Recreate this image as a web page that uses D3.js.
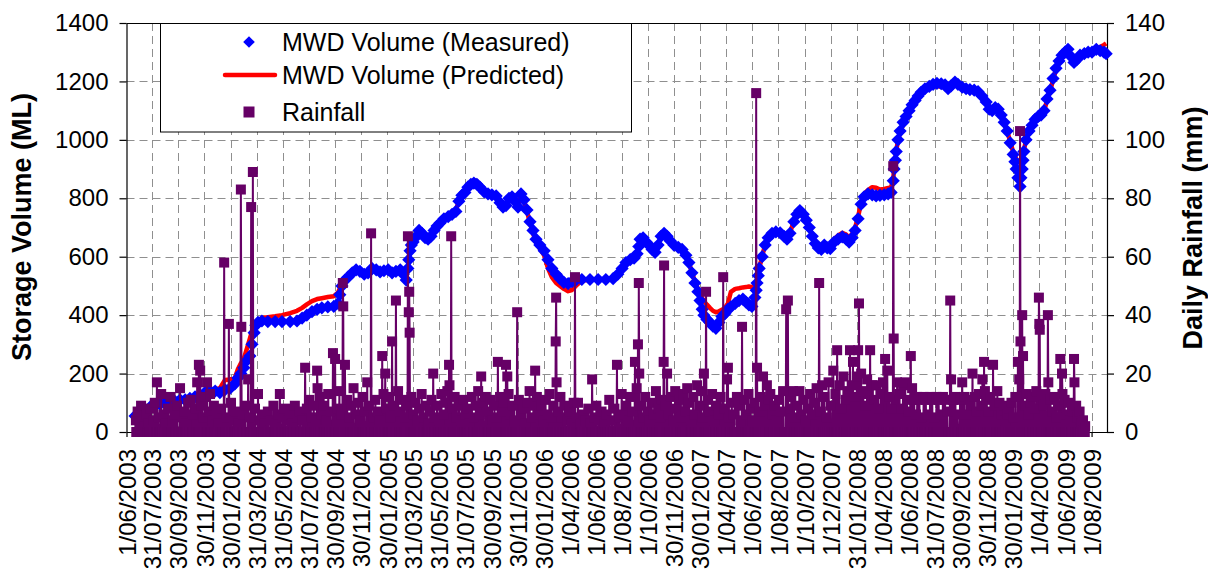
<!DOCTYPE html>
<html>
<head>
<meta charset="utf-8">
<script src="https://cdn.jsdelivr.net/npm/d3@7"></script>
<style>
  body { margin: 0; background: #fff; }
  svg { display: block; }
  text { font-family: "Liberation Sans", Arial, sans-serif; fill: #000; }
</style>
</head>
<body>
<svg id="chart" width="1208" height="576"></svg>
<script>
// ---- data -------------------------------------------------------------
// All days are counted from 1 June 2003.
const startDate = "1/06/2003";
const endDay = 2289;

const tickLabels = [
  "1/06/2003", "31/07/2003", "30/09/2003", "30/11/2003", "30/01/2004", "31/03/2004",
  "31/05/2004", "31/07/2004", "30/09/2004", "30/11/2004", "30/01/2005", "31/03/2005",
  "31/05/2005", "31/07/2005", "30/09/2005", "30/11/2005", "30/01/2006", "1/04/2006",
  "1/06/2006", "1/08/2006", "1/10/2006", "30/11/2006", "30/01/2007", "1/04/2007",
  "1/06/2007", "1/08/2007", "1/10/2007", "1/12/2007", "31/01/2008", "1/04/2008",
  "1/06/2008", "31/07/2008", "30/09/2008", "30/11/2008", "30/01/2009", "1/04/2009",
  "1/06/2009", "1/08/2009"
];
const volumeTicks = [0, 200, 400, 600, 800, 1000, 1200, 1400];
const rainTicks = [0, 20, 40, 60, 80, 100, 120, 140];

// MWD storage volume, measured [day, ML]
const measuredVolume = [
  [20,55],[32,65],[43,75],[55,85],[67,90],[78,95],[90,100],[102,100],[113,105],[125,110],
  [137,110],[148,115],[160,120],[172,125],[183,135],[195,140],[207,140],[218,135],[230,145],
  [242,150],[253,165],[260,185],[267,200],[274,220],[281,245],[288,260],[293,300],[298,340],
  [302,365],[307,375],[316,380],[330,378],[347,378],[363,378],[382,378],[398,380],[410,390],
  [421,400],[433,412],[445,420],[456,425],[470,428],[484,430],[494,440],[498,470],[503,500],
  [510,520],[517,530],[527,545],[536,555],[545,550],[555,540],[564,545],[573,560],[583,555],
  [592,548],[601,552],[611,555],[620,545],[629,550],[639,555],[646,540],[653,520],[657,560],
  [659,590],[662,620],[665,640],[669,650],[676,668],[683,690],[690,680],[697,665],[704,660],
  [711,670],[718,690],[725,705],[732,715],[741,730],[751,737],[760,745],[769,755],[776,790],
  [783,810],[790,820],[797,838],[804,848],[811,852],[818,848],[825,838],[835,822],[844,815],
  [853,812],[863,808],[872,785],[879,770],[886,775],[893,800],[900,805],[907,790],[914,770],
  [921,815],[928,795],[935,760],[942,720],[949,690],[956,660],[965,640],[975,620],[984,590],
  [993,560],[1003,540],[1012,525],[1021,512],[1031,508],[1040,515],[1049,520],[1063,522],
  [1082,522],[1101,522],[1119,522],[1136,525],[1147,540],[1157,560],[1166,580],[1176,590],
  [1185,595],[1192,610],[1196,635],[1199,660],[1206,665],[1213,650],[1220,640],[1227,625],
  [1234,615],[1241,640],[1248,670],[1255,680],[1262,670],[1269,655],[1278,640],[1288,632],
  [1297,625],[1306,605],[1313,580],[1320,545],[1327,510],[1334,480],[1339,450],[1344,420],
  [1348,400],[1355,385],[1362,375],[1369,362],[1376,355],[1383,375],[1390,395],[1397,405],
  [1404,420],[1411,428],[1421,440],[1430,450],[1439,455],[1446,445],[1453,435],[1460,430],
  [1467,460],[1470,485],[1472,510],[1475,535],[1477,560],[1484,600],[1491,640],[1498,665],
  [1507,680],[1516,685],[1526,682],[1535,670],[1542,660],[1549,680],[1558,720],[1565,745],
  [1572,758],[1580,745],[1587,725],[1594,700],[1601,670],[1608,645],[1615,630],[1622,625],
  [1629,640],[1636,630],[1643,628],[1652,650],[1661,660],[1671,668],[1680,660],[1687,650],
  [1694,665],[1701,690],[1708,730],[1715,780],[1722,805],[1731,815],[1741,812],[1750,808],
  [1759,810],[1769,812],[1778,815],[1785,820],[1790,860],[1792,900],[1795,930],[1797,960],
  [1801,1000],[1806,1030],[1813,1060],[1820,1080],[1827,1100],[1834,1120],[1841,1135],
  [1848,1150],[1855,1163],[1864,1175],[1874,1183],[1883,1190],[1892,1193],[1902,1192],
  [1911,1188],[1918,1175],[1925,1185],[1934,1198],[1941,1190],[1951,1180],[1960,1175],
  [1969,1172],[1979,1170],[1988,1165],[1997,1150],[2007,1130],[2014,1105],[2021,1100],
  [2028,1110],[2035,1105],[2042,1085],[2049,1060],[2056,1030],[2063,990],[2070,950],
  [2074,925],[2077,900],[2081,870],[2086,840],[2088,870],[2091,900],[2093,930],[2095,960],
  [2100,1000],[2107,1030],[2114,1050],[2121,1070],[2128,1080],[2135,1085],[2142,1100],
  [2149,1140],[2156,1170],[2163,1210],[2170,1245],[2177,1270],[2184,1290],[2191,1300],
  [2198,1310],[2205,1285],[2212,1265],[2219,1275],[2226,1290],[2236,1295],[2245,1300],
  [2254,1300],[2264,1310],[2273,1305],[2282,1300],[2287,1295]
];

// MWD storage volume, model prediction [day, ML]
const predictedVolume = [
  [20,55],[43,72],[67,85],[90,95],[113,102],[137,108],[160,118],[183,130],[195,138],[207,145],
  [218,150],[230,178],[242,180],[253,185],[260,215],[267,235],[274,252],[281,285],[288,320],
  [293,345],[298,365],[302,378],[307,382],[316,390],[330,393],[347,396],[363,400],[382,407],
  [398,415],[410,425],[421,437],[433,448],[445,455],[456,458],[470,462],[484,465],[494,478],
  [498,492],[503,510],[510,525],[517,535],[527,548],[536,556],[545,552],[555,545],[564,548],
  [573,560],[583,556],[592,550],[601,553],[611,556],[620,548],[629,552],[639,556],[646,545],
  [653,528],[657,560],[662,618],[669,648],[676,665],[683,688],[690,680],[697,668],[704,662],
  [711,672],[718,692],[725,707],[732,717],[741,732],[751,740],[760,748],[769,760],[776,792],
  [783,812],[790,825],[797,842],[804,855],[811,862],[818,858],[825,842],[835,825],[844,815],
  [853,812],[863,805],[872,782],[879,770],[886,778],[893,800],[900,806],[907,790],[914,772],
  [921,808],[928,790],[935,755],[942,715],[949,680],[956,650],[965,628],[975,605],[984,560],
  [993,530],[1003,510],[1012,500],[1021,490],[1031,482],[1040,486],[1049,500],[1063,518],
  [1082,522],[1101,522],[1119,522],[1136,526],[1147,542],[1157,562],[1166,580],[1176,590],
  [1185,597],[1192,612],[1199,655],[1206,662],[1213,650],[1220,638],[1227,626],[1234,618],
  [1241,640],[1248,668],[1255,678],[1262,668],[1269,655],[1278,640],[1288,630],[1297,620],
  [1306,600],[1313,578],[1320,548],[1327,515],[1334,490],[1339,470],[1344,458],[1348,448],
  [1355,436],[1362,425],[1369,415],[1376,410],[1383,413],[1390,418],[1397,425],[1404,440],
  [1411,480],[1421,490],[1430,492],[1439,495],[1446,496],[1453,498],[1460,496],[1467,502],
  [1472,520],[1477,560],[1484,602],[1491,642],[1498,668],[1507,685],[1516,690],[1526,686],
  [1535,672],[1542,662],[1549,682],[1558,722],[1565,748],[1572,760],[1580,748],[1587,728],
  [1594,703],[1601,672],[1608,648],[1615,635],[1622,632],[1629,645],[1636,640],[1643,640],
  [1652,660],[1661,672],[1671,682],[1680,676],[1687,665],[1694,678],[1701,700],[1708,738],
  [1715,785],[1722,815],[1731,828],[1741,838],[1750,836],[1759,830],[1769,832],[1778,835],
  [1785,838],[1790,865],[1792,905],[1797,962],[1801,998],[1806,1025],[1813,1052],[1820,1072],
  [1827,1092],[1834,1112],[1841,1128],[1848,1143],[1855,1157],[1864,1170],[1874,1178],
  [1883,1183],[1892,1184],[1902,1182],[1911,1180],[1918,1172],[1925,1180],[1934,1192],
  [1941,1188],[1951,1178],[1960,1172],[1969,1168],[1979,1166],[1988,1160],[1997,1145],
  [2007,1125],[2014,1105],[2021,1100],[2028,1108],[2035,1102],[2042,1082],[2049,1058],
  [2056,1030],[2063,995],[2070,958],[2077,935],[2081,925],[2086,922],[2091,935],[2095,965],
  [2100,1000],[2107,1028],[2114,1048],[2121,1066],[2128,1078],[2135,1085],[2142,1098],
  [2149,1135],[2156,1165],[2163,1205],[2170,1240],[2177,1266],[2184,1288],[2191,1300],
  [2198,1308],[2205,1288],[2212,1268],[2219,1275],[2226,1290],[2236,1295],[2245,1300],
  [2254,1302],[2264,1312],[2273,1318],[2282,1325],[2287,1330]
];

// Daily rainfall record: first and last day of record; days not listed had no rain.
const rainPeriod = [22, 2238];

// Storm days [day, mm]
const rainStorms = [
  [34,9],[71,17],[81,13],[125,15],[144,10],[165,17],[169,23],[172,21],[188,17],[195,13],
  [228,58],[239,37],[267,83],[268,36],[284,18],[291,77],[295,89],[307,13],[358,13],[417,22],
  [445,21],[446,15],[482,27],[487,25],[505,51],[506,43],[510,23],[562,17],[571,68],[597,26],
  [604,20],[620,31],[629,45],[657,67],[659,41],[660,48],[661,34],[716,20],[753,23],[754,16],
  [758,67],[828,19],[839,12],[867,24],[886,23],[889,19],[912,41],[954,21],[1002,31],[1003,46],
  [1004,17],[1047,53],[1054,10],[1087,18],[1145,23],[1187,24],[1194,30],[1196,51],[1197,20],
  [1254,24],[1255,57],[1262,20],[1281,14],[1309,15],[1332,16],[1348,20],[1353,48],[1393,53],
  [1402,18],[1404,22],[1425,12],[1437,36],[1470,116],[1472,22],[1486,19],[1495,16],[1498,11],
  [1540,42],[1544,45],[1556,14],[1617,51],[1624,16],[1650,21],[1659,28],[1689,28],[1696,24],
  [1708,28],[1710,44],[1715,20],[1729,18],[1736,28],[1741,16],[1771,25],[1776,21],[1790,91],
  [1791,32],[1799,17],[1813,16],[1818,17],[1831,26],[1834,15],[1846,12],[1923,45],[1925,18],
  [1951,17],[1975,20],[2002,24],[2004,14],[2023,23],[2033,14],[2056,6],[2081,24],[2084,18],
  [2086,103],[2087,31],[2091,40],[2093,26],[2116,12],[2130,46],[2131,37],[2132,35],[2151,40],
  [2152,17],[2180,25],[2184,20],[2185,13],[2210,7],[2212,25],[2213,17]
];

// Shower days [day, mm]
const rainShowers = [
  [22,4],[26,7],[30,3],[38,5],[42,2],[47,6],[52,3],[57,8],[62,4],[66,10],[75,5],[86,6],[92,3],
  [97,8],[103,12],[108,4],[113,6],[118,9],[130,5],[135,7],[139,3],[150,11],[155,6],[160,8],
  [176,9],[180,5],[184,12],[191,7],[200,4],[204,9],[210,6],[215,3],[221,8],[233,5],[244,10],
  [250,4],[256,7],[261,3],[272,6],[277,9],[288,5],[300,8],[312,4],[317,6],[323,3],[330,7],
  [337,4],[343,9],[350,3],[354,6],[364,5],[370,8],[376,4],[382,6],[388,3],[393,9],[399,5],
  [405,7],[411,4],[421,8],[427,11],[432,5],[437,9],[441,4],[451,12],[456,6],[461,9],[466,4],
  [471,13],[476,7],[492,8],[497,14],[501,6],[515,11],[520,5],[525,9],[530,15],[536,6],[541,10],
  [546,4],[551,12],[556,7],[566,9],[576,5],[581,11],[586,7],[591,4],[600,13],[608,8],[613,12],
  [616,5],[624,9],[634,14],[639,7],[644,11],[649,5],[653,9],[665,12],[669,6],[674,10],[679,4],
  [684,8],[689,13],[694,5],[699,9],[704,3],[709,7],[712,11],[720,5],[725,9],[730,4],[735,13],
  [740,6],[745,10],[749,14],[762,8],[766,12],[771,5],[776,9],[781,4],[786,11],[791,6],[796,8],
  [801,3],[806,12],[811,5],[816,9],[821,14],[825,6],[833,10],[844,7],[849,11],[854,4],[859,9],
  [863,5],[872,12],[877,7],[881,10],[892,13],[896,6],[901,9],[906,4],[916,11],[921,6],[926,8],
  [931,3],[936,10],[941,14],[946,5],[950,9],[958,12],[963,6],[968,9],[973,4],[978,11],[983,6],
  [988,13],[993,5],[997,9],[1008,7],[1013,12],[1018,5],[1023,9],[1029,4],[1034,7],[1040,3],
  [1044,10],[1051,5],[1060,3],[1066,6],[1072,4],[1078,8],[1083,3],[1092,5],[1097,9],[1103,4],
  [1109,7],[1115,3],[1121,6],[1127,11],[1133,4],[1139,8],[1150,5],[1156,13],[1161,6],[1166,9],
  [1171,4],[1176,12],[1181,7],[1191,15],[1201,9],[1206,5],[1211,12],[1216,7],[1221,4],[1226,10],
  [1231,6],[1236,14],[1241,8],[1246,5],[1250,11],[1258,9],[1266,6],[1271,12],[1276,4],[1285,8],
  [1290,11],[1295,5],[1300,13],[1304,7],[1313,10],[1318,4],[1323,12],[1327,6],[1337,9],[1341,14],
  [1345,5],[1357,11],[1362,7],[1367,13],[1372,4],[1377,9],[1382,6],[1387,12],[1397,8],[1408,5],
  [1413,10],[1418,6],[1429,9],[1433,4],[1442,11],[1447,6],[1452,13],[1457,8],[1462,4],[1466,10],
  [1477,7],[1481,12],[1490,9],[1503,13],[1508,6],[1513,9],[1518,4],[1523,11],[1528,7],[1533,14],
  [1549,8],[1552,12],[1561,5],[1566,9],[1571,14],[1576,6],[1581,11],[1586,4],[1591,8],[1596,13],
  [1601,6],[1606,10],[1611,15],[1621,7],[1629,12],[1634,5],[1639,17],[1644,9],[1655,13],[1664,16],
  [1669,8],[1674,19],[1679,11],[1684,14],[1693,16],[1701,12],[1705,19],[1720,14],[1725,9],
  [1733,13],[1746,11],[1751,16],[1756,8],[1761,13],[1766,17],[1781,12],[1786,8],[1795,11],
  [1804,13],[1809,8],[1822,11],[1826,7],[1839,11],[1843,6],[1851,11],[1856,5],[1861,12],[1866,11],
  [1871,6],[1876,12],[1881,11],[1886,5],[1891,12],[1896,11],[1901,6],[1906,12],[1911,11],[1916,7],
  [1930,11],[1935,12],[1940,6],[1946,11],[1956,12],[1961,6],[1966,11],[1970,9],[1980,12],[1985,7],
  [1990,13],[1995,9],[1998,18],[2008,11],[2012,7],[2017,12],[2028,9],[2038,10],[2043,6],[2048,9],
  [2052,4],[2061,8],[2066,10],[2071,5],[2075,12],[2098,9],[2102,13],[2106,6],[2111,10],[2120,8],
  [2124,14],[2136,11],[2140,9],[2145,13],[2157,11],[2162,7],[2166,12],[2170,5],[2175,9],[2190,11],
  [2194,6],[2198,10],[2203,4],[2207,8],[2217,9],[2221,5],[2225,7],[2229,3],[2233,4],[2238,2]
];

// ---- layout ------------------------------------------------------------
const plot = { left: 126.5, right: 1107, top: 23, bottom: 432 };
const colors = { measured: "#0000ff", predicted: "#ff0000", rain: "#660066", grid: "#8f8f8f" };

const svg = d3.select("#chart");
const parseDate = d3.timeParse("%d/%m/%Y");
const start = parseDate(startDate);
const dayToDate = d => d3.timeDay.offset(start, d);

const x = d3.scaleTime()
  .domain([start, dayToDate(endDay)])
  .range([plot.left, plot.right]);
const yVol = d3.scaleLinear().domain([0, 1400]).range([plot.bottom, plot.top]);
const yRain = d3.scaleLinear().domain([0, 140]).range([plot.bottom, plot.top]);
const tickDates = tickLabels.map(parseDate);

// ---- gridlines ---------------------------------------------------------
const grid = svg.append("g").attr("class", "grid")
  .attr("stroke", colors.grid).attr("stroke-width", 1).attr("stroke-dasharray", "8,5");
grid.selectAll("line.h")
  .data(volumeTicks.filter(v => v > 0 && v < 1400))
  .join("line")
  .attr("x1", plot.left).attr("x2", plot.right)
  .attr("y1", d => Math.round(yVol(d)) + 0.5).attr("y2", d => Math.round(yVol(d)) + 0.5);
grid.selectAll("line.v")
  .data(tickDates.slice(1))
  .join("line")
  .attr("x1", d => Math.round(x(d)) + 0.5).attr("x2", d => Math.round(x(d)) + 0.5)
  .attr("y1", plot.top).attr("y2", plot.bottom);

// top border of the plot area
svg.append("line")
  .attr("x1", plot.left).attr("x2", plot.right)
  .attr("y1", plot.top + 0.5).attr("y2", plot.top + 0.5)
  .attr("stroke", "#000").attr("stroke-width", 1);

// ---- axes --------------------------------------------------------------
function styleAxis(g) {
  g.selectAll("path.domain").attr("stroke", "#000").attr("stroke-width", 1.2);
  g.selectAll(".tick line").attr("stroke", "#000").attr("stroke-width", 1.2);
  g.selectAll(".tick text").attr("font-size", 24).attr("fill", "#000")
    .attr("font-family", "'Liberation Sans', Arial, sans-serif");
}
const plainNumber = d3.format("d");

svg.append("g")
  .attr("transform", `translate(${plot.left},0)`)
  .call(d3.axisLeft(yVol).tickValues(volumeTicks).tickFormat(plainNumber)
    .tickSize(7).tickSizeOuter(0).tickPadding(11))
  .call(styleAxis);

svg.append("g")
  .attr("transform", `translate(${plot.right},0)`)
  .call(d3.axisRight(yRain).tickValues(rainTicks).tickFormat(plainNumber)
    .tickSize(7).tickSizeOuter(0).tickPadding(11))
  .call(styleAxis);

const xAxis = svg.append("g")
  .attr("transform", `translate(0,${plot.bottom})`)
  .call(d3.axisBottom(x).tickValues(tickDates).tickFormat((d, i) => tickLabels[i])
    .tickSize(5).tickSizeOuter(0))
  .call(styleAxis);
xAxis.selectAll(".tick text")
  .attr("transform", "rotate(-90)")
  .attr("x", -17).attr("y", 0).attr("dy", "0.36em")
  .style("text-anchor", "end");

// axis titles
svg.append("text")
  .attr("transform", "translate(31,227) rotate(-90)")
  .attr("text-anchor", "middle").attr("font-size", 27).attr("font-weight", "bold")
  .text("Storage Volume (ML)");
svg.append("text")
  .attr("transform", "translate(1202,228) rotate(-90)")
  .attr("text-anchor", "middle").attr("font-size", 27).attr("font-weight", "bold")
  .text("Daily Rainfall (mm)");

// ---- series ------------------------------------------------------------
const diamondPath = r => `M0,${-r}L${r},0L0,${r}L${-r},0Z`;

// predicted volume line
svg.append("path")
  .datum(predictedVolume)
  .attr("fill", "none").attr("stroke", colors.predicted).attr("stroke-width", 4.5)
  .attr("stroke-linejoin", "round")
  .attr("d", d3.line().x(d => x(dayToDate(d[0]))).y(d => yVol(d[1])));

// measured volume markers
svg.append("g").selectAll("path")
  .data(measuredVolume)
  .join("path")
  .attr("d", diamondPath(6.6))
  .attr("fill", colors.measured)
  .attr("transform", d => `translate(${x(dayToDate(d[0]))},${yVol(d[1])})`);

// daily rainfall: line through every day of record, square marker per day
const rainByDay = new Map(rainShowers);
rainStorms.forEach(([d, mm]) => rainByDay.set(d, mm));
const rainDaily = d3.range(rainPeriod[0], rainPeriod[1] + 1)
  .map(d => ({ day: d, mm: rainByDay.get(d) || 0 }));

svg.append("path")
  .datum(rainDaily)
  .attr("fill", "none").attr("stroke", colors.rain).attr("stroke-width", 2)
  .attr("d", d3.line().x(d => x(dayToDate(d.day))).y(d => yRain(d.mm)));

const sq = 10;
svg.append("g").selectAll("rect")
  .data(rainDaily)
  .join("rect")
  .attr("x", d => x(dayToDate(d.day)) - sq / 2)
  .attr("y", d => yRain(d.mm) - sq / 2)
  .attr("width", sq).attr("height", sq)
  .attr("fill", colors.rain);

// ---- legend ------------------------------------------------------------
const legend = svg.append("g");
legend.append("rect")
  .attr("x", 160.5).attr("y", 23.5).attr("width", 471).attr("height", 108.5)
  .attr("fill", "#fff").attr("stroke", "#000").attr("stroke-width", 1);

const legendItems = [
  { label: "MWD Volume (Measured)", y: 42, kind: "diamond" },
  { label: "MWD Volume (Predicted)", y: 75, kind: "line" },
  { label: "Rainfall", y: 112, kind: "square" }
];
legendItems.forEach(item => {
  if (item.kind === "diamond") {
    legend.append("path").attr("d", diamondPath(5.8))
      .attr("transform", `translate(249,${item.y})`).attr("fill", colors.measured);
  } else if (item.kind === "line") {
    legend.append("line").attr("x1", 225).attr("x2", 275)
      .attr("y1", item.y).attr("y2", item.y)
      .attr("stroke", colors.predicted).attr("stroke-width", 4.5).attr("stroke-linecap", "round");
  } else {
    legend.append("rect").attr("x", 249 - 5.5).attr("y", item.y - 5.5)
      .attr("width", 11).attr("height", 11).attr("fill", colors.rain);
  }
  legend.append("text")
    .attr("x", 282).attr("y", item.y).attr("dy", "0.35em")
    .attr("font-size", 25)
    .text(item.label);
});
</script>
</body>
</html>
